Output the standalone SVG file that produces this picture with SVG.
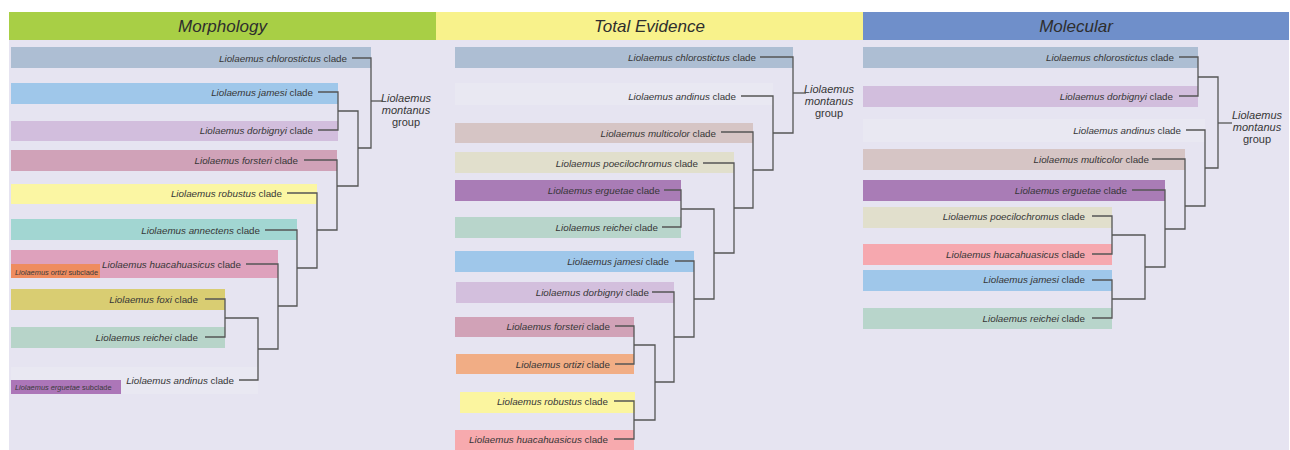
<svg xmlns="http://www.w3.org/2000/svg" width="1290" height="450" viewBox="0 0 1290 450">
<style>
.t{font-family:"Liberation Sans",Arial,sans-serif;font-size:9.8px;fill:#363636;text-anchor:end}
.s{font-family:"Liberation Sans",Arial,sans-serif;font-size:7.4px;fill:#3a3a3a}
.i{font-style:italic}
.h{font-family:"Liberation Sans",Arial,sans-serif;font-size:17px;font-style:italic;fill:#2e2e2e;text-anchor:middle}
.g{font-family:"Liberation Sans",Arial,sans-serif;font-size:11px;fill:#363636;text-anchor:middle}
.faint{fill:#e9e8f2}
.lines path{fill:none;stroke:#555;stroke-width:1.3}
</style>
<rect width="1290" height="450" fill="#ffffff"/>
<rect x="9" y="40" width="1280" height="410" fill="#e6e4f1"/>
<g id="headers">
<rect x="9" y="12" width="427" height="28" fill="#a8cf45"/>
<rect x="436" y="12" width="427" height="28" fill="#f8f28b"/>
<rect x="863" y="12" width="426" height="28" fill="#6f8fca"/>
<text class="h" x="222.5" y="31.5">Morphology</text>
<text class="h" x="649.5" y="31.5">Total Evidence</text>
<text class="h" x="1076" y="31.5">Molecular</text>
</g>
<!-- Morphology -->
<g id="m-chlorostictus"><rect x="11" y="47" width="360" height="21" fill="#adbed3"/><text class="t" x="347" y="61.5"><tspan class="i">Liolaemus chlorostictus</tspan> clade</text></g>
<g id="m-jamesi"><rect x="11" y="83" width="327" height="21" fill="#9fc7ea"/><text class="t" x="313" y="95.5"><tspan class="i">Liolaemus jamesi</tspan> clade</text></g>
<g id="m-dorbignyi"><rect x="11" y="121" width="327" height="20" fill="#d2bedd"/><text class="t" x="313" y="133.5"><tspan class="i">Liolaemus dorbignyi</tspan> clade</text></g>
<g id="m-forsteri"><rect x="11" y="150" width="326" height="21" fill="#d0a2b8"/><text class="t" x="298" y="163.5"><tspan class="i">Liolaemus forsteri</tspan> clade</text></g>
<g id="m-robustus"><rect x="11" y="184" width="306" height="20" fill="#fbf6a3"/><text class="t" x="282" y="197"><tspan class="i">Liolaemus robustus</tspan> clade</text></g>
<g id="m-annectens"><rect x="11" y="219" width="286" height="21" fill="#a2d6d2"/><text class="t" x="260" y="233.5"><tspan class="i">Liolaemus annectens</tspan> clade</text></g>
<g id="m-huacahuasicus"><rect x="11" y="250" width="267" height="28" fill="#dea1bc"/><text class="t" x="241" y="267.5"><tspan class="i">Liolaemus huacahuasicus</tspan> clade</text>
<rect x="11" y="264" width="89" height="14" fill="#ef8c5f"/><text class="s" x="15" y="274.5"><tspan class="i">Liolaemus ortizi</tspan> subclade</text></g>
<g id="m-foxi"><rect x="11" y="289" width="214" height="21" fill="#d9cd72"/><text class="t" x="198" y="302.5"><tspan class="i">Liolaemus foxi</tspan> clade</text></g>
<g id="m-reichei"><rect x="11" y="327" width="214" height="21" fill="#b7d4c9"/><text class="t" x="198" y="340.5"><tspan class="i">Liolaemus reichei</tspan> clade</text></g>
<g id="m-andinus"><rect class="faint" x="11" y="367" width="247" height="27"/><text class="t" x="234" y="383.5"><tspan class="i">Liolaemus andinus</tspan> clade</text>
<rect x="11" y="380" width="110" height="14" fill="#ac76b8"/><text class="s" x="15" y="390"><tspan class="i">Liolaemus erguetae</tspan> subclade</text></g>
<g id="m-montanus"><text class="g" x="406" y="101.5"><tspan class="i" x="406">Liolaemus</tspan><tspan class="i" x="406" dy="12">montanus</tspan><tspan x="406" dy="12">group</tspan></text></g>
<!-- Total Evidence -->
<g id="te-chlorostictus"><rect x="455" y="47" width="338" height="21" fill="#adbed3"/><text class="t" x="756" y="61"><tspan class="i">Liolaemus chlorostictus</tspan> clade</text></g>
<g id="te-andinus"><rect class="faint" x="455" y="83" width="318" height="22"/><text class="t" x="736" y="99.5"><tspan class="i">Liolaemus andinus</tspan> clade</text></g>
<g id="te-multicolor"><rect x="455" y="123" width="298" height="20" fill="#d6c5c5"/><text class="t" x="716" y="136.5"><tspan class="i">Liolaemus multicolor</tspan> clade</text></g>
<g id="te-poecilochromus"><rect x="455" y="152" width="279" height="21" fill="#e1dfcc"/><text class="t" x="698" y="166.5"><tspan class="i">Liolaemus poecilochromus</tspan> clade</text></g>
<g id="te-erguetae"><rect x="455" y="180" width="226" height="21" fill="#a97cb6"/><text class="t" x="660" y="193.5"><tspan class="i">Liolaemus erguetae</tspan> clade</text></g>
<g id="te-reichei"><rect x="455" y="217" width="226" height="21" fill="#b8d5cb"/><text class="t" x="658" y="230.5"><tspan class="i">Liolaemus reichei</tspan> clade</text></g>
<g id="te-jamesi"><rect x="455" y="251" width="239" height="21" fill="#9fc7ea"/><text class="t" x="669" y="264.5"><tspan class="i">Liolaemus jamesi</tspan> clade</text></g>
<g id="te-dorbignyi"><rect x="456" y="282" width="218" height="21" fill="#d3bfdd"/><text class="t" x="649" y="295.5"><tspan class="i">Liolaemus dorbignyi</tspan> clade</text></g>
<g id="te-forsteri"><rect x="455" y="317" width="179" height="20" fill="#d1a2b7"/><text class="t" x="610" y="330"><tspan class="i">Liolaemus forsteri</tspan> clade</text></g>
<g id="te-ortizi"><rect x="456" y="354" width="178" height="20" fill="#f1ad85"/><text class="t" x="610" y="367.5"><tspan class="i">Liolaemus ortizi</tspan> clade</text></g>
<g id="te-robustus"><rect x="460" y="392" width="175" height="21" fill="#fbf59f"/><text class="t" x="608" y="405"><tspan class="i">Liolaemus robustus</tspan> clade</text></g>
<g id="te-huacahuasicus"><rect x="455" y="430" width="179" height="20" fill="#f7aaae"/><text class="t" x="608" y="443"><tspan class="i">Liolaemus huacahuasicus</tspan> clade</text></g>
<g id="te-montanus"><text class="g" x="829" y="93"><tspan class="i" x="829">Liolaemus</tspan><tspan class="i" x="829" dy="12">montanus</tspan><tspan x="829" dy="12">group</tspan></text></g>
<!-- Molecular -->
<g id="mo-chlorostictus"><rect x="863" y="47" width="335" height="21" fill="#adbed3"/><text class="t" x="1174" y="61"><tspan class="i">Liolaemus chlorostictus</tspan> clade</text></g>
<g id="mo-dorbignyi"><rect x="863" y="86" width="335" height="21" fill="#d2bedd"/><text class="t" x="1173" y="100"><tspan class="i">Liolaemus dorbignyi</tspan> clade</text></g>
<g id="mo-andinus"><rect class="faint" x="863" y="119" width="342" height="23"/><text class="t" x="1181" y="133.5"><tspan class="i">Liolaemus andinus</tspan> clade</text></g>
<g id="mo-multicolor"><rect x="863" y="149" width="322" height="21" fill="#d6c5c5"/><text class="t" x="1149" y="163"><tspan class="i">Liolaemus multicolor</tspan> clade</text></g>
<g id="mo-erguetae"><rect x="863" y="180" width="302" height="21" fill="#a97cb6"/><text class="t" x="1127" y="193.5"><tspan class="i">Liolaemus erguetae</tspan> clade</text></g>
<g id="mo-poecilochromus"><rect x="863" y="207" width="249" height="21" fill="#e1dfcc"/><text class="t" x="1085" y="220"><tspan class="i">Liolaemus poecilochromus</tspan> clade</text></g>
<g id="mo-huacahuasicus"><rect x="863" y="244" width="249" height="21" fill="#f6a8af"/><text class="t" x="1085" y="258"><tspan class="i">Liolaemus huacahuasicus</tspan> clade</text></g>
<g id="mo-jamesi"><rect x="863" y="270" width="249" height="21" fill="#9fc7ea"/><text class="t" x="1085" y="283"><tspan class="i">Liolaemus jamesi</tspan> clade</text></g>
<g id="mo-reichei"><rect x="863" y="308" width="249" height="21" fill="#b8d5cb"/><text class="t" x="1085" y="321.5"><tspan class="i">Liolaemus reichei</tspan> clade</text></g>
<g id="mo-montanus"><text class="g" x="1257" y="119"><tspan class="i" x="1257">Liolaemus</tspan><tspan class="i" x="1257" dy="12">montanus</tspan><tspan x="1257" dy="12">group</tspan></text></g>
<g id="connectors" class="lines">
<path d="M352 58H371V148H358"/>
<path d="M371 101H383"/>
<path d="M318 92H338V130H318"/>
<path d="M338 111H358V186H337"/>
<path d="M304 160H337V230H317"/>
<path d="M287 193H317V268H297"/>
<path d="M265 230H297V306H278"/>
<path d="M246 264H278V349H258"/>
<path d="M205 299H225V337H205"/>
<path d="M225 318H258V380H239"/>
<path d="M760 57H793V133H773"/>
<path d="M793 93H806"/>
<path d="M741 96H773V170H753"/>
<path d="M721 132H753V208H734"/>
<path d="M703 163H734V253H714"/>
<path d="M664 190H681V227H662"/>
<path d="M681 209H714V299H694"/>
<path d="M675 261H694V337H674"/>
<path d="M652 292H674V382H655"/>
<path d="M615 326H634V364H615"/>
<path d="M634 345H655V420H634"/>
<path d="M614 401H634V439H614"/>
<path d="M1179 57H1198V96H1179"/>
<path d="M1198 77H1218V168H1205"/>
<path d="M1218 123H1232"/>
<path d="M1186 130H1205V206H1185"/>
<path d="M1152 159H1185V229H1165"/>
<path d="M1132 190H1165V267H1145"/>
<path d="M1092 216H1112V254H1092"/>
<path d="M1112 235H1145V299H1112"/>
<path d="M1092 280H1112V318H1092"/>
</g>
</svg>
